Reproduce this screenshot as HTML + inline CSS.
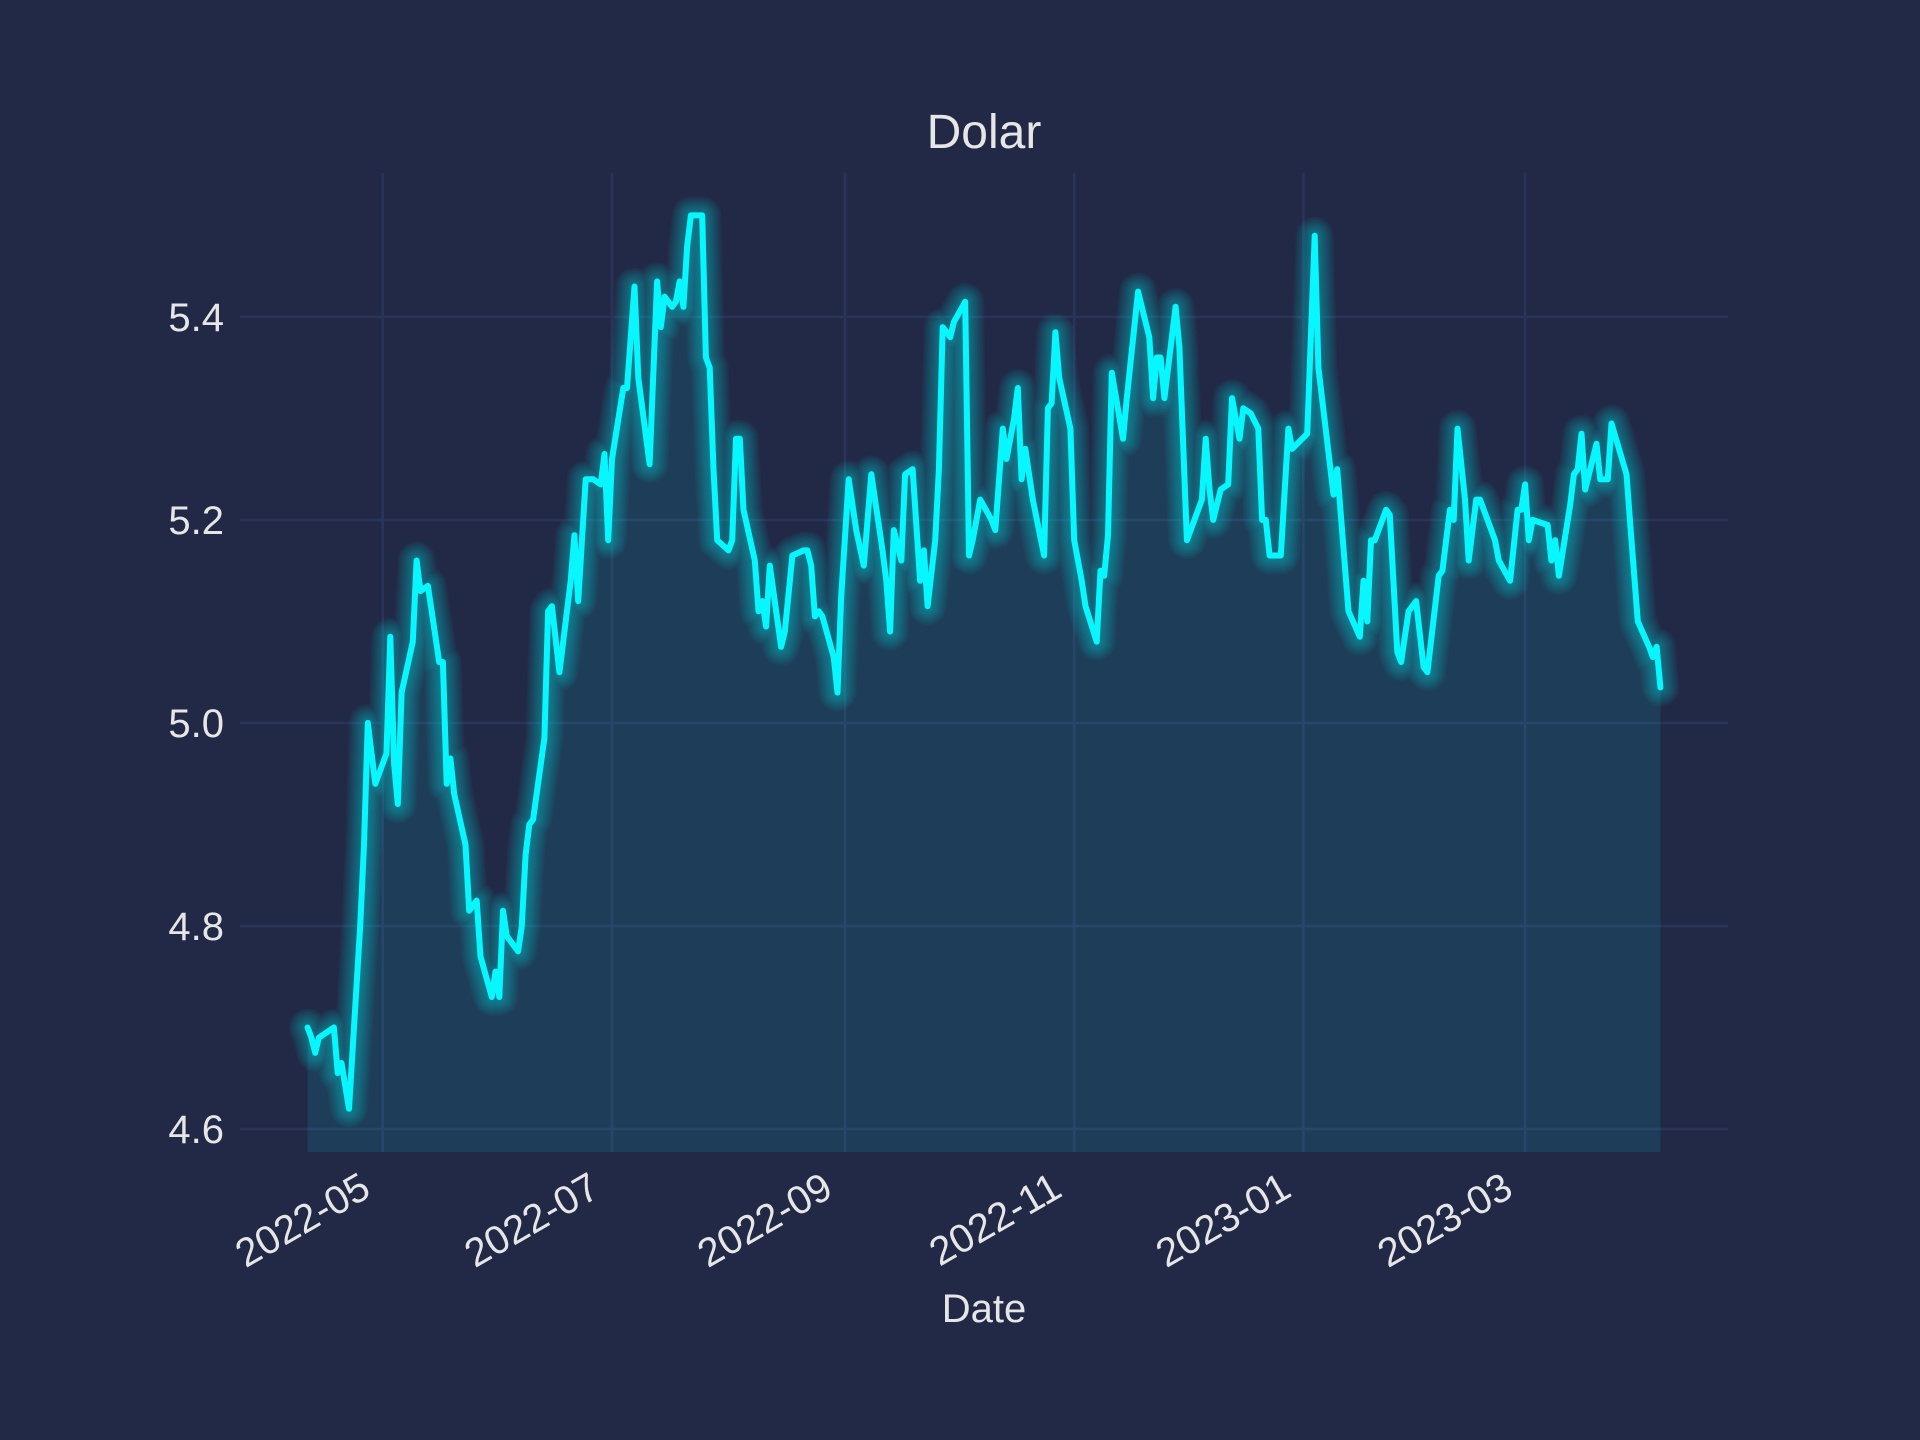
<!DOCTYPE html>
<html><head><meta charset="utf-8"><style>
html,body{margin:0;padding:0;background:#212946;}
svg{display:block;font-family:"Liberation Sans",sans-serif;}
</style></head><body>
<svg id="chart" width="1920" height="1440" viewBox="0 0 1920 1440" xmlns="http://www.w3.org/2000/svg">
<rect x="0" y="0" width="1920" height="1440" fill="#212946"/>
<g id="grid"></g>
<g id="plot"></g>
<g id="axes"></g>
<text x="984" y="148" font-size="48" fill="#e6e6e6" text-anchor="middle">Dolar</text>
<text x="984" y="1322" font-size="40" fill="#e6e6e6" text-anchor="middle">Date</text>
</svg>
<script>
const startDate = "2022-04-11";
const dayOffsets = [0,1,2,3,7,8,9,11,14,15,16,18,21,22,23,24,25,28,29,30,32,35,36,37,38,39,42,43,45,46,49,50,51,52,53,56,57,58,59,60,63,64,65,67,68,70,71,72,74,76,78,79,80,81,84,85,87,88,91,93,94,95,97,98,99,100,101,102,105,106,107,108,109,112,113,114,115,116,119,120,121,122,123,126,127,129,132,133,134,135,136,137,140,141,142,144,146,148,150,152,153,154,155,156,158,159,161,163,164,165,167,168,169,171,172,175,176,177,179,182,183,185,186,188,189,190,191,193,196,197,198,199,200,203,204,206,207,210,211,212,213,214,217,218,220,221,224,225,226,227,228,231,232,234,235,
238,239,240,241,243,245,246,248,249,251,253,254,255,256,259,261,262,266,268,269,273,274,277,280,281,282,283,284,287,288,290,291,293,295,297,298,301,302,304,305,306,308,309,311,312,316,317,320,322,323,324,325,326,330,331,332,333,336,337,338,339,340,343,344,345,346,347,351,352,354,357,358,359,360];
const rates = [4.70,4.69,4.675,4.69,4.70,4.655,4.665,4.62,4.80,4.88,5.00,4.94,4.97,5.085,4.96,4.92,5.03,5.08,5.16,5.13,5.135,5.06,5.06,4.94,4.965,4.93,4.88,4.815,4.825,4.77,4.73,4.755,4.73,4.815,4.79,4.775,4.80,4.87,4.90,4.905,4.985,5.11,5.115,5.05,5.08,5.14,5.185,5.12,5.24,5.24,5.235,5.265,5.18,5.26,5.33,5.33,5.43,5.34,5.255,5.435,5.39,5.42,5.41,5.415,5.435,5.41,5.47,5.50,5.50,5.36,5.35,5.25,5.18,5.17,5.18,5.28,5.28,5.21,5.16,5.11,5.12,5.095,5.155,5.075,5.09,5.165,5.17,5.17,5.155,5.105,5.11,5.105,5.065,5.03,5.125,5.24,5.19,5.155,5.245,5.195,5.17,5.14,5.09,5.19,5.16,5.245,5.25,5.14,5.17,5.115,5.18,5.25,5.39,5.38,5.395,5.415,5.165,5.18,5.22,5.20,5.19,5.29,5.26,5.30,5.33,5.24,5.27,5.22,5.165,5.31,5.315,5.385,5.34,5.29,5.18,5.14,5.115,5.08,5.15,5.145,5.185,5.345,5.28,5.32,5.39,5.425,5.38,5.32,5.36,5.36,5.32,5.41,5.37,5.18,5.19,
5.22,5.28,5.23,5.20,5.23,5.235,5.32,5.28,5.31,5.305,5.29,5.20,5.20,5.165,5.165,5.29,5.27,5.285,5.48,5.35,5.225,5.25,5.11,5.085,5.14,5.10,5.18,5.18,5.21,5.205,5.07,5.06,5.11,5.12,5.055,5.05,5.145,5.15,5.21,5.20,5.29,5.22,5.16,5.22,5.22,5.18,5.16,5.14,5.21,5.21,5.235,5.18,5.20,5.195,5.16,5.18,5.145,5.215,5.245,5.25,5.285,5.23,5.275,5.24,5.24,5.24,5.295,5.245,5.195,5.10,5.075,5.065,5.075,5.035];
const xTickDays = [20,81,143,204,265,324];
const xTickLabels = ["2022-05","2022-07","2022-09","2022-11","2023-01","2023-03"];
const yTickValues = [4.6,4.8,5.0,5.2,5.4];
const yTickLabels = ["4.6","4.8","5.0","5.2","5.4"];

const L=240,R=1728,T=172.8,B=1152;
const xMin=-18,xMax=378,yMin=4.5773,yMax=5.542;
const xs=d=>L+(d-xMin)/(xMax-xMin)*(R-L);
const ys=v=>B-(v-yMin)/(yMax-yMin)*(B-T);
const NS="http://www.w3.org/2000/svg";
function mk(tag,attrs,parent){const e=document.createElementNS(NS,tag);for(const k in attrs)e.setAttribute(k,attrs[k]);parent.appendChild(e);return e;}
const grid=document.getElementById('grid'),plot=document.getElementById('plot'),axes=document.getElementById('axes');

yTickValues.forEach((v,i)=>{
  const y=ys(v);
  const g=mk('line',{x1:L,x2:R,y1:y,y2:y,stroke:'#2A3459','stroke-width':2.5},grid);
  
  
  const t=mk('text',{x:224,y:y+14,'font-size':40,fill:'#e6e6e6','text-anchor':'end'},axes);
  t.textContent=yTickLabels[i];
  
  
});
xTickDays.forEach((d,i)=>{
  const x=xs(d);
  const g=mk('line',{x1:x,x2:x,y1:T,y2:B,stroke:'#2A3459','stroke-width':2.5},grid);
  
  
  const ax=x-10,ay=1195;
  const t=mk('text',{x:ax,y:ay,'font-size':40,fill:'#e6e6e6','text-anchor':'end',transform:`rotate(-30 ${ax} ${ay})`},axes);
  t.textContent=xTickLabels[i];
  
  
});

const pts=dayOffsets.map((d,i)=>[xs(d),ys(rates[i])]);
const dStr='M'+pts.map(p=>p[0].toFixed(1)+','+p[1].toFixed(1)).join(' L');
const area=mk('path',{d:dStr+` L${pts[pts.length-1][0].toFixed(1)},${B} L${pts[0][0].toFixed(1)},${B} Z`,fill:'#08F7FE','fill-opacity':0.1},plot);


for(let n=1;n<=10;n++){
  const gl=mk('path',{d:dStr,fill:'none',stroke:'#08F7FE','stroke-width':6+3.2*n,'stroke-opacity':0.04,'stroke-linejoin':'round','stroke-linecap':'round'},plot);
  
  
}
const line=mk('path',{d:dStr,fill:'none',stroke:'#08F7FE','stroke-width':6,'stroke-linejoin':'round','stroke-linecap':'round'},plot);


</script>
</body></html>
